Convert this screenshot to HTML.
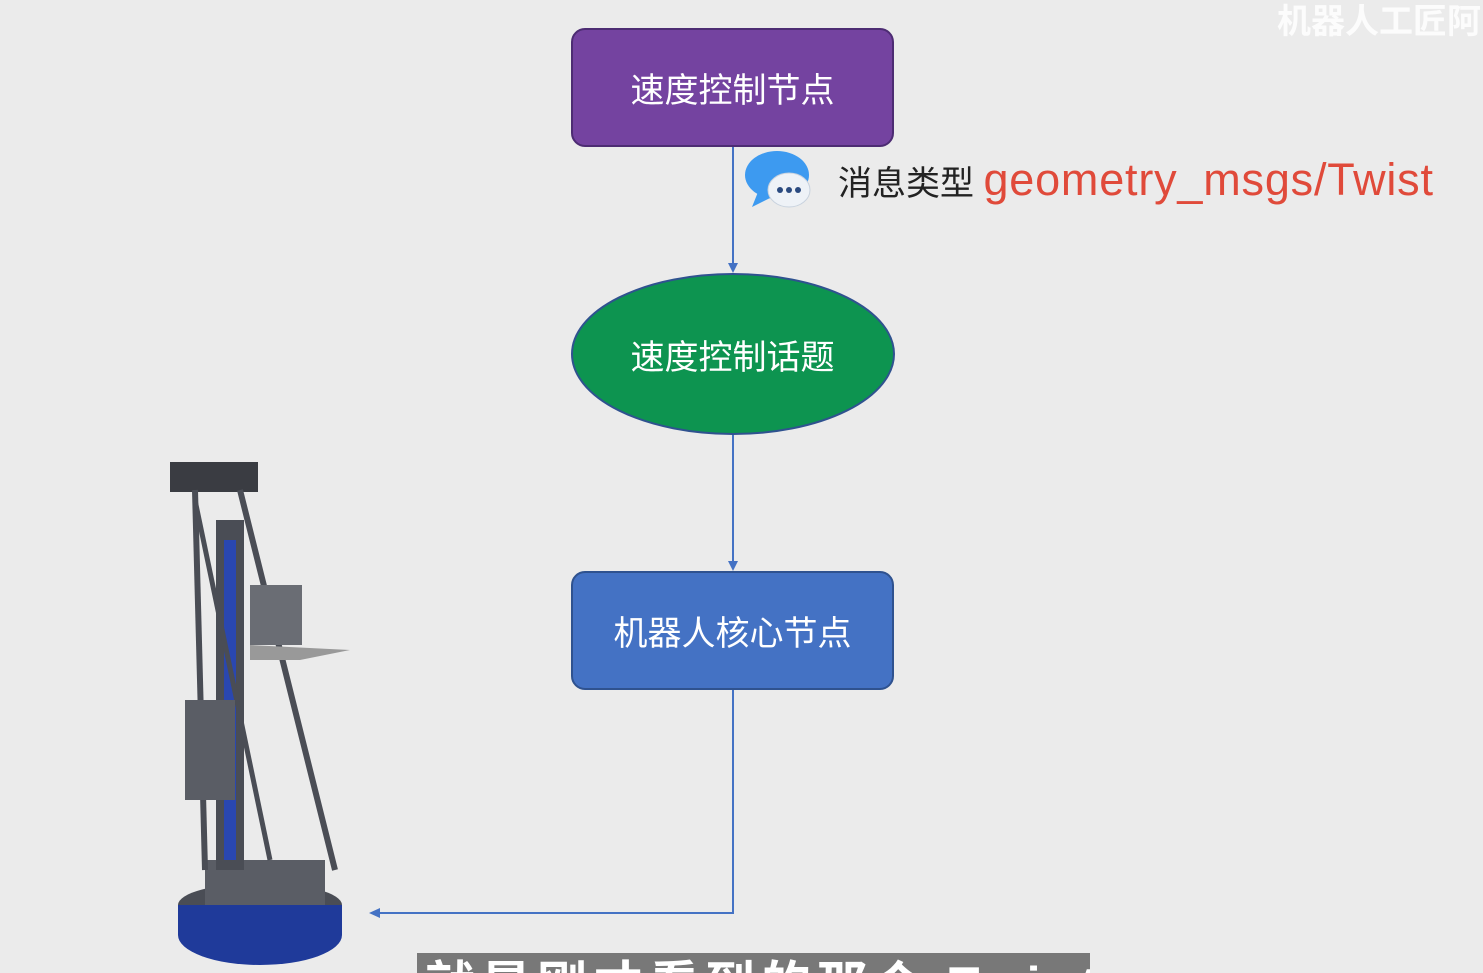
<!DOCTYPE html>
<html><head><meta charset="utf-8"><style>
html,body{margin:0;width:1483px;height:973px;overflow:hidden}
body{background:#ebebeb;position:relative;font-family:"Liberation Sans","Noto Sans CJK SC",sans-serif}
.box{position:absolute;color:#fff;font-size:34px;display:flex;align-items:center;justify-content:center;box-sizing:border-box}
</style></head><body>
<div style="position:absolute;right:2px;top:-6px;font-size:34px;font-weight:bold;color:#fff;opacity:.85">机器人工匠阿</div>
<svg width="1483" height="973" style="position:absolute;left:0;top:0">
<line x1="733" y1="147" x2="733" y2="264" stroke="#4472c4" stroke-width="2"/>
<path d="M728,263 L738,263 L733,273 z" fill="#4472c4"/>
<line x1="733" y1="434" x2="733" y2="562" stroke="#4472c4" stroke-width="2"/>
<path d="M728,561 L738,561 L733,571 z" fill="#4472c4"/>
<polyline points="733,690 733,913 378,913" fill="none" stroke="#4472c4" stroke-width="2"/>
<path d="M380,908 L369,913 L380,918 z" fill="#4472c4"/>
<ellipse cx="733" cy="354" rx="161" ry="80" fill="#0d9450" stroke="#2f528f" stroke-width="2"/>
<ellipse cx="777" cy="175" rx="32" ry="24" fill="#3d9af0"/>
<path d="M758,192 L752,207 L772,197 z" fill="#3d9af0"/>
<ellipse cx="789" cy="190" rx="21" ry="17" fill="#eef2f7" stroke="#c8d2de"/>
<circle cx="780" cy="190" r="3" fill="#2a4a80"/><circle cx="789" cy="190" r="3" fill="#2a4a80"/><circle cx="798" cy="190" r="3" fill="#2a4a80"/>
<ellipse cx="260" cy="935" rx="82" ry="30" fill="#1f3a9a"/>
<ellipse cx="260" cy="905" rx="82" ry="22" fill="#4a4d55"/>
<rect x="178" y="905" width="164" height="30" fill="#1f3a9a"/>
<rect x="205" y="860" width="120" height="45" fill="#5a5d65"/>
<rect x="216" y="520" width="28" height="350" fill="#4a4d55"/>
<rect x="224" y="540" width="12" height="320" fill="#2a47b0"/>
<rect x="170" y="462" width="88" height="30" fill="#3a3c42"/>
<line x1="195" y1="490" x2="205" y2="870" stroke="#4a4d55" stroke-width="6"/>
<line x1="240" y1="490" x2="335" y2="870" stroke="#4a4d55" stroke-width="6"/>
<line x1="195" y1="500" x2="270" y2="860" stroke="#4a4d55" stroke-width="5"/>
<rect x="250" y="585" width="52" height="60" fill="#6a6d74"/>
<polygon points="250,645 350,650 300,660 250,660" fill="#999"/>
<rect x="185" y="700" width="50" height="100" fill="#5a5d65"/>
</svg>
<div class="box" style="left:571px;top:28px;width:323px;height:119px;background:#7443a0;border:2px solid #4d2c73;border-radius:14px">速度控制节点</div>
<div class="box" style="left:571px;top:300px;width:323px;height:108px">速度控制话题</div>
<div class="box" style="left:571px;top:571px;width:323px;height:119px;background:#4472c4;border:2px solid #2f528f;border-radius:14px">机器人核心节点</div>
<div style="position:absolute;left:838px;top:156px;font-size:34px;color:#222;white-space:nowrap;line-height:48px">消息类型 <span style="color:#e04a3a;font-size:45px;letter-spacing:0.8px">geometry_msgs/Twist</span></div>
<div style="position:absolute;left:417px;top:953px;width:673px;height:20px;background:#787878;overflow:hidden"><div style="position:absolute;left:8px;top:2px;font-size:50px;line-height:60px;font-weight:bold;color:#fff;white-space:nowrap;letter-spacing:6px">就是刚才看到的那个 Twist</div></div>
</body></html>
